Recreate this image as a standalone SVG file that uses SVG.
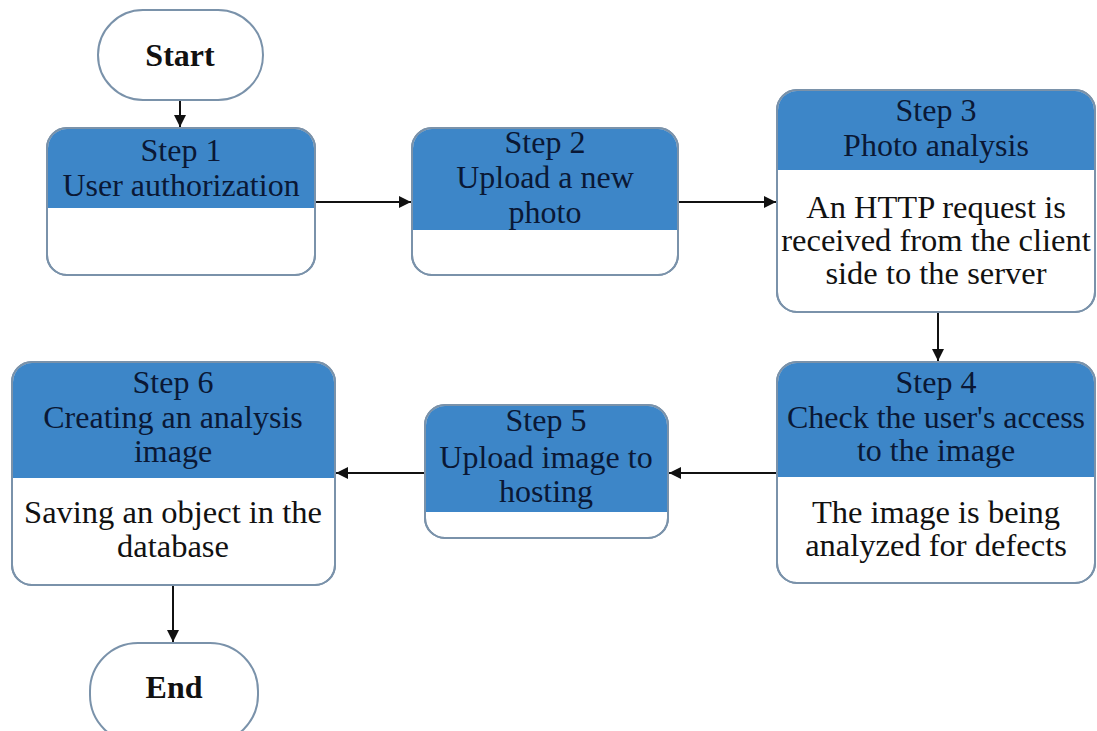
<svg xmlns="http://www.w3.org/2000/svg" width="1097" height="731" viewBox="0 0 1097 731">
<style>
.box{fill:#ffffff;stroke:#7a92aa;stroke-width:2}
.hdr{fill:#3d86c8}
.term{fill:#ffffff;stroke:#7a92aa;stroke-width:2}
text{font-family:"Liberation Serif","Times New Roman",Times,serif;text-anchor:middle}
.ht{font-size:32px;fill:#0a1835}
.bt{font-size:32.5px;fill:#111111}
.tt{font-size:32px;font-weight:bold;fill:#111111}
.cn{stroke:#111111;stroke-width:2;fill:none;marker-end:url(#ah)}
</style>
<defs>
<marker id="ah" viewBox="0 0 12 12" refX="12" refY="6" markerWidth="12" markerHeight="12" markerUnits="userSpaceOnUse" orient="auto">
<path d="M0,0 L12,6 L0,12 z" fill="#111111"/>
</marker>
</defs>
<rect width="1097" height="731" fill="#ffffff"/>
<g id="connectors">
<line class="cn" x1="180" y1="100" x2="180" y2="127"/>
<line class="cn" x1="315" y1="202" x2="411" y2="202"/>
<line class="cn" x1="678" y1="202" x2="776" y2="202"/>
<line class="cn" x1="938" y1="312" x2="938" y2="361"/>
<line class="cn" x1="777" y1="473" x2="669" y2="473"/>
<line class="cn" x1="425" y1="473" x2="336" y2="473"/>
<line class="cn" x1="173" y1="585" x2="173" y2="642"/>
</g>
<g id="start">
<rect class="term" x="98" y="10" width="165" height="90" rx="45" ry="45"/>
<text class="tt" x="180" y="66">Start</text>
</g>
<g id="step1">
<rect class="box" x="47" y="128" width="268" height="147" rx="20"/>
<path class="hdr" d="M48,208 V148 A19,19 0 0 1 67,129 H295 A19,19 0 0 1 314,148 V208 Z"/>
<rect x="47" y="128" width="268" height="147" rx="20" fill="none" stroke="#7a92aa" stroke-width="2"/>
<text class="ht" x="181" y="161">Step 1</text>
<text class="ht" x="181" y="196">User authorization</text>
</g>
<g id="step2">
<rect class="box" x="412" y="128" width="266" height="147" rx="20"/>
<path class="hdr" d="M413,230 V148 A19,19 0 0 1 432,129 H658 A19,19 0 0 1 677,148 V230 Z"/>
<rect x="412" y="128" width="266" height="147" rx="20" fill="none" stroke="#7a92aa" stroke-width="2"/>
<text class="ht" x="545" y="153">Step 2</text>
<text class="ht" x="545" y="188">Upload a new</text>
<text class="ht" x="545" y="223">photo</text>
</g>
<g id="step3">
<rect class="box" x="777" y="90" width="318" height="222" rx="20"/>
<path class="hdr" d="M778,170 V110 A19,19 0 0 1 797,91 H1075 A19,19 0 0 1 1094,110 V170 Z"/>
<rect x="777" y="90" width="318" height="222" rx="20" fill="none" stroke="#7a92aa" stroke-width="2"/>
<text class="ht" x="936" y="121">Step 3</text>
<text class="ht" x="936" y="156">Photo analysis</text>
<text class="bt" x="936" y="218">An HTTP request is</text>
<text class="bt" x="936" y="251">received from the client</text>
<text class="bt" x="936" y="284">side to the server</text>
</g>
<g id="step4">
<rect class="box" x="777" y="362" width="318" height="221" rx="20"/>
<path class="hdr" d="M778,477 V382 A19,19 0 0 1 797,363 H1075 A19,19 0 0 1 1094,382 V477 Z"/>
<rect x="777" y="362" width="318" height="221" rx="20" fill="none" stroke="#7a92aa" stroke-width="2"/>
<text class="ht" x="936" y="393">Step 4</text>
<text class="ht" x="936" y="428">Check the user's access</text>
<text class="ht" x="936" y="461">to the image</text>
<text class="bt" x="936" y="523">The image is being</text>
<text class="bt" x="936" y="556">analyzed for defects</text>
</g>
<g id="step5">
<rect class="box" x="425" y="405" width="243" height="133" rx="20"/>
<path class="hdr" d="M426,512 V425 A19,19 0 0 1 445,406 H648 A19,19 0 0 1 667,425 V512 Z"/>
<rect x="425" y="405" width="243" height="133" rx="20" fill="none" stroke="#7a92aa" stroke-width="2"/>
<text class="ht" x="546" y="431">Step 5</text>
<text class="ht" x="546" y="468">Upload image to</text>
<text class="ht" x="546" y="502">hosting</text>
</g>
<g id="step6">
<rect class="box" x="12" y="362" width="323" height="223" rx="20"/>
<path class="hdr" d="M13,478 V382 A19,19 0 0 1 32,363 H315 A19,19 0 0 1 334,382 V478 Z"/>
<rect x="12" y="362" width="323" height="223" rx="20" fill="none" stroke="#7a92aa" stroke-width="2"/>
<text class="ht" x="173" y="393">Step 6</text>
<text class="ht" x="173" y="428">Creating an analysis</text>
<text class="ht" x="173" y="462">image</text>
<text class="bt" x="173" y="523">Saving an object in the</text>
<text class="bt" x="173" y="557">database</text>
</g>
<g id="end">
<rect class="term" x="90" y="643" width="168" height="100" rx="48" ry="48"/>
<text class="tt" x="174" y="698">End</text>
</g>
</svg>
